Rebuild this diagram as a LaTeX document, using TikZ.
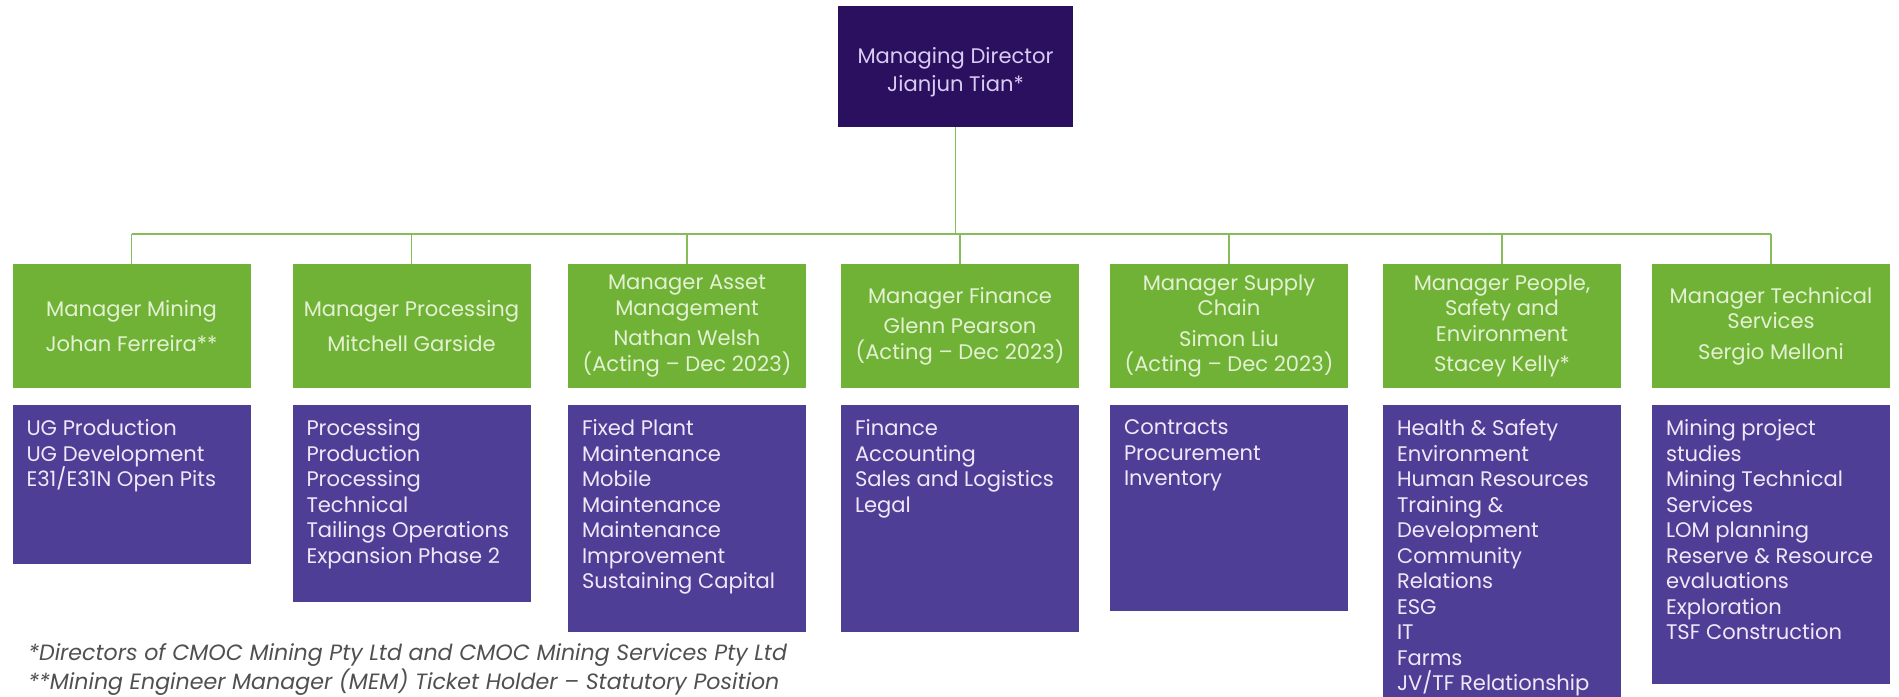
\documentclass[tikz,border=0pt]{standalone}
\usepackage{fontspec}
\setmainfont{Poppins}
\usepackage{tikz}
\usetikzlibrary{calc,positioning}
\definecolor{mdpurple}{HTML}{2B1060}
\definecolor{mdfg}{HTML}{D9CCF2}
\definecolor{mgrgreen}{HTML}{70B236}
\definecolor{mgrfg}{HTML}{E3F1D2}
\definecolor{unitpurple}{HTML}{4F3E96}
\definecolor{unitfg}{HTML}{EEE8F8}
\definecolor{linkgreen}{HTML}{86BD5A}
\definecolor{notegray}{HTML}{505050}
\tikzstyle{mdbox} = [fill=mdpurple, minimum width=4.70cm, minimum height=2.42cm, inner sep=0pt]
\tikzstyle{mdtext} = [text=mdfg, align=center, inner sep=0pt, font=\fontsize{12}{16}\selectfont]
\tikzstyle{mgrbox} = [fill=mgrgreen, text=mgrfg, minimum width=4.76cm, minimum height=2.48cm, align=center, inner sep=0pt, font=\fontsize{12}{14.5}\selectfont]
\tikzstyle{unitbox} = [fill=unitpurple, minimum width=4.76cm, inner sep=0pt]
\tikzstyle{unitlist} = [text=unitfg, anchor=north west, align=left, inner sep=0pt, xshift=0.28cm, yshift=-0.30cm, font=\fontsize{12}{14.5}\selectfont]
\tikzstyle{link} = [draw=linkgreen, line width=1pt]

\begin{document}
\begin{tikzpicture}
\useasboundingbox (0,0) rectangle (37.98,-13.94);
\node[mdbox] (md) at (19.11,-1.33) {};
\node[mdtext] (mdname) at ([yshift=-0.12cm]md.center) {Managing Director\\Jianjun Tian*};

\node[mgrbox] (m1) at (2.63,-6.52) {Manager Mining\\[5pt]Johan Ferreira**};
\node[mgrbox] (m2) at (8.23,-6.52) {Manager Processing\\[5pt]Mitchell Garside};
\node[mgrbox] (m3) at (13.74,-6.52) {Manager Asset\\Management\\[3pt]Nathan Welsh\\(Acting – Dec 2023)};
\node[mgrbox] (m4) at (19.20,-6.52) {Manager Finance\\[3pt]Glenn Pearson\\(Acting – Dec 2023)};
\node[mgrbox] (m5) at (24.58,-6.52) {Manager Supply\\Chain\\[3pt]Simon Liu\\(Acting – Dec 2023)};
\node[mgrbox] (m6) at (30.04,-6.52) {Manager People,\\Safety and\\Environment\\[3pt]Stacey Kelly*};
\node[mgrbox] (m7) at (35.42,-6.52) {Manager Technical\\Services\\[3pt]Sergio Melloni};

\coordinate (bus) at (0,-4.68);
\draw[link] (md.south) -- (md.south |- bus);
\draw[link] (m1.north |- bus) -- (m7.north |- bus);
\foreach \i in {1,...,7}
  \draw[link] (m\i.north) -- (m\i.north |- bus);

\node[unitbox, minimum height=3.18cm, below=0.32cm of m1] (u1) {};
\node[unitbox, minimum height=3.94cm, below=0.32cm of m2] (u2) {};
\node[unitbox, minimum height=4.54cm, below=0.32cm of m3] (u3) {};
\node[unitbox, minimum height=4.54cm, below=0.32cm of m4] (u4) {};
\node[unitbox, minimum height=4.12cm, below=0.32cm of m5] (u5) {};
\node[unitbox, minimum height=5.84cm, below=0.32cm of m6] (u6) {};
\node[unitbox, minimum height=5.58cm, below=0.32cm of m7] (u7) {};

\node[unitlist] (u1list) at (u1.north west) {UG Production\\UG Development\\E31/E31N Open Pits};
\node[unitlist] (u2list) at (u2.north west) {Processing\\Production\\Processing\\Technical\\Tailings Operations\\Expansion Phase 2};
\node[unitlist] (u3list) at (u3.north west) {Fixed Plant\\Maintenance\\Mobile\\Maintenance\\Maintenance\\Improvement\\Sustaining Capital};
\node[unitlist] (u4list) at (u4.north west) {Finance\\Accounting\\Sales and Logistics\\Legal};
\node[unitlist] (u5list) at (u5.north west) {Contracts\\Procurement\\Inventory};
\node[unitlist] (u6list) at (u6.north west) {Health \& Safety\\Environment\\Human Resources\\Training \&\\Development\\Community\\Relations\\ESG\\IT\\Farms\\JV/TF Relationship};
\node[unitlist] (u7list) at (u7.north west) {Mining project\\studies\\Mining Technical\\Services\\LOM planning\\Reserve \& Resource\\evaluations\\Exploration\\TSF Construction};

\node[anchor=west, align=left, inner sep=0pt, text=notegray, font=\fontsize{12.6}{16.5}\selectfont\itshape] (note) at (0.56,-13.40) {*Directors of CMOC Mining Pty Ltd and CMOC Mining Services Pty Ltd\\**Mining Engineer Manager (MEM) Ticket Holder – Statutory Position};
\end{tikzpicture}
\end{document}
